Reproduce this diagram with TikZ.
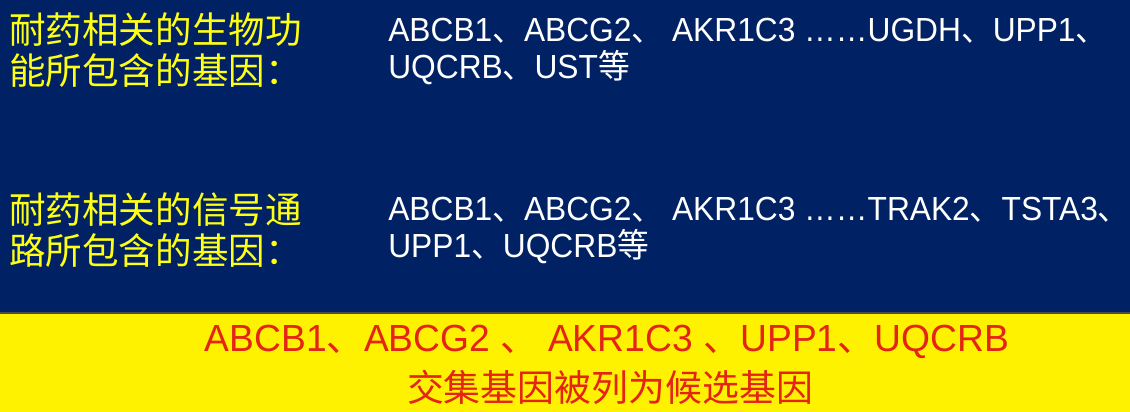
\documentclass[tikz,border=0pt]{standalone}
\usepackage{fontspec}
\setmainfont{Liberation Sans}
\newfontfamily\cjk{Noto Sans CJK SC}
\newcommand{\dun}{{\cjk 、}}
\usetikzlibrary{positioning}

\begin{document}
\begin{tikzpicture}[x=0.02cm,y=-0.02cm]
\definecolor{navybg}{RGB}{0,33,99};
\definecolor{bandyellow}{RGB}{255,242,0};
\definecolor{labelyellow}{RGB}{255,255,20};
\definecolor{genered}{RGB}{228,36,20};
\useasboundingbox (0,0) rectangle (1130,412);
\fill[navybg] (0,0) rectangle (1130,313);
\fill[bandyellow] (0,313) rectangle (1130,412);
\draw[black!70, line width=0.8pt] (0,313) -- (1130,313);
\node [anchor=north west,
       inner sep=0pt,
       align=left,
       text=labelyellow,
       font=\cjk\fontsize{20.8}{23.4}\selectfont] (bioT) at (9,12) {耐药相关的生物功\\能所包含的基因：};
\node [anchor=north west,
       inner sep=0pt,
       align=left,
       text=labelyellow,
       font=\cjk\fontsize{20.8}{23.4}\selectfont] (pathT) at (9,192) {耐药相关的信号通\\路所包含的基因：};
\node [anchor=north west,
       inner sep=0pt,
       align=left,
       text=white,
       xscale=0.95,
       font=\fontsize{19}{21.5}\selectfont] (bioG) at (388,17.5) {ABCB1\dun ABCG2\dun\ AKR1C3 ……UGDH\dun UPP1\rlap{\cjk 、}\\UQCRB\dun UST{\cjk 等}};
\node [anchor=north west,
       inner sep=0pt,
       align=left,
       text=white,
       xscale=0.95,
       font=\fontsize{19}{21.5}\selectfont] (pathG) at (388,196.5) {ABCB1\dun ABCG2\dun\ AKR1C3 ……TRAK2\dun TSTA3\rlap{\cjk 、}\\UPP1\dun UQCRB{\cjk 等}};
\node [inner sep=0pt,
       text=genered,
       xscale=0.985,
       font=\fontsize{21.5}{24}\selectfont] (common) at (607,342) {ABCB1\dun ABCG2 \dun\ AKR1C3 \dun UPP1\dun UQCRB};
\node [inner sep=0pt,
       text=genered,
       font=\cjk\fontsize{21}{24}\selectfont] (cand) at (610,387) {交集基因被列为候选基因};
\end{tikzpicture}
\end{document}
